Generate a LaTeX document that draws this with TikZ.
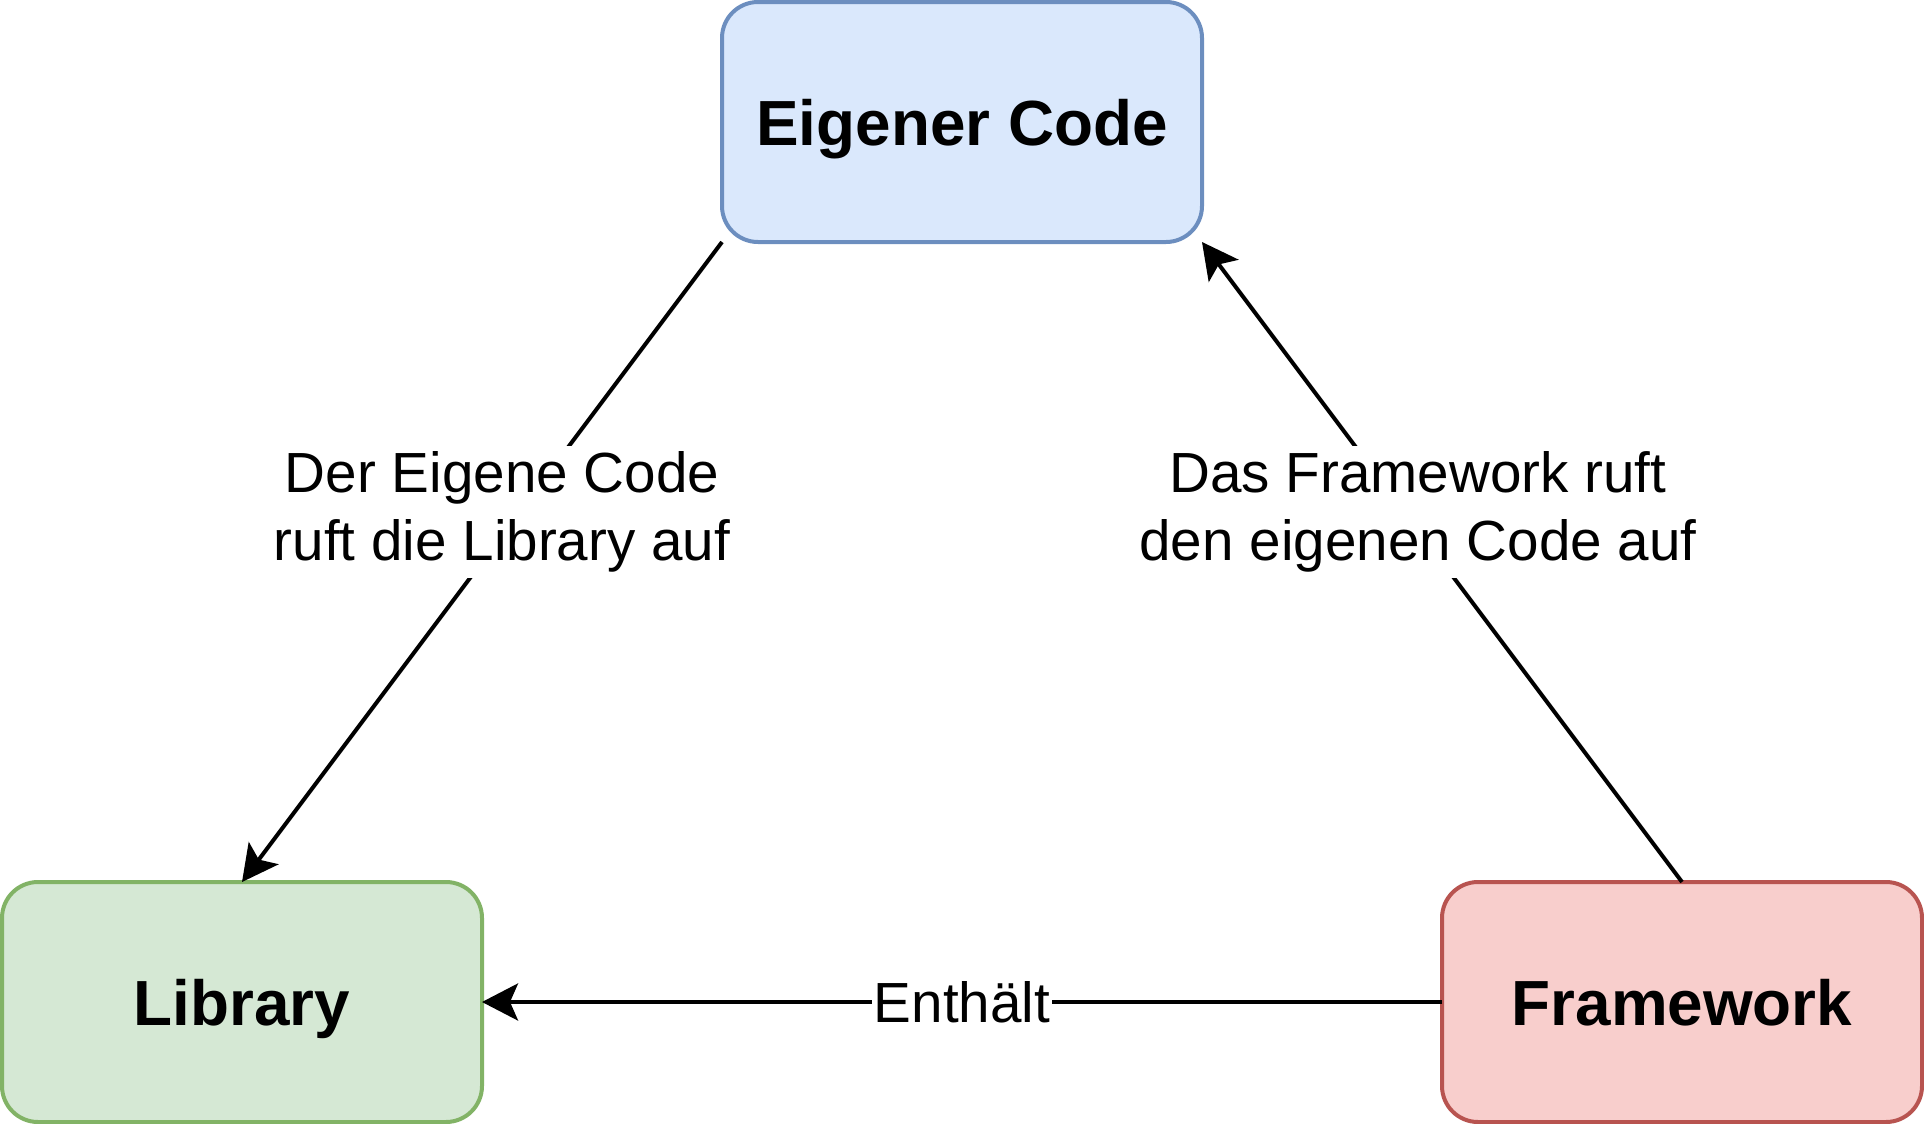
\documentclass[tikz,border=0pt]{standalone}
\usepackage{fontspec}
\setmainfont{Liberation Sans}
\usetikzlibrary{arrows.meta}
\definecolor{bfill}{HTML}{DAE8FC}
\definecolor{bline}{HTML}{6C8EBF}
\definecolor{gfill}{HTML}{D5E8D4}
\definecolor{gline}{HTML}{82B366}
\definecolor{rfill}{HTML}{F8CECC}
\definecolor{rline}{HTML}{B85450}
\begin{document}
\begin{tikzpicture}[x=0.5pt,y=-0.5pt,
  box/.style={rectangle, rounded corners=18pt, line width=2pt,
    minimum width=240pt, minimum height=120pt, inner sep=0pt, outer sep=0pt,
    text height=23pt, text depth=0pt,
    font=\fontsize{31.9}{38}\selectfont\bfseries},
  conn/.style={line width=2pt, -{Stealth[length=18pt,width=18.5pt,inset=4pt]}},
  lbl/.style={fill=white, align=center, inner xsep=2pt, inner ysep=3pt,
    font=\fontsize{28.3}{33.75}\selectfont},
  elbl/.style={fill=white, inner xsep=1pt, inner ysep=2pt,
    font=\fontsize{28.3}{33.75}\selectfont}]
\useasboundingbox (0,0) rectangle (1924,1124);
\node[box, fill=bfill, draw=bline] (ec) at (962,122) {Eigener Code};
\node[box, fill=gfill, draw=gline] (lib) at (242,1002) {Library};
\node[box, fill=rfill, draw=rline] (fw) at (1682,1002) {Framework};
\draw[conn] (ec.south west) -- (lib.north);
\draw[conn] (fw.north) -- (ec.south east);
\draw[conn] (fw.west) -- node[elbl] (l3) {Enthält} (lib.east);
\node[lbl] (l1) at (502,512) {Der Eigene Code\\ruft die Library auf};
\node[lbl] (l2) at (1418,512) {Das Framework ruft\\den eigenen Code auf};
\end{tikzpicture}
\end{document}
